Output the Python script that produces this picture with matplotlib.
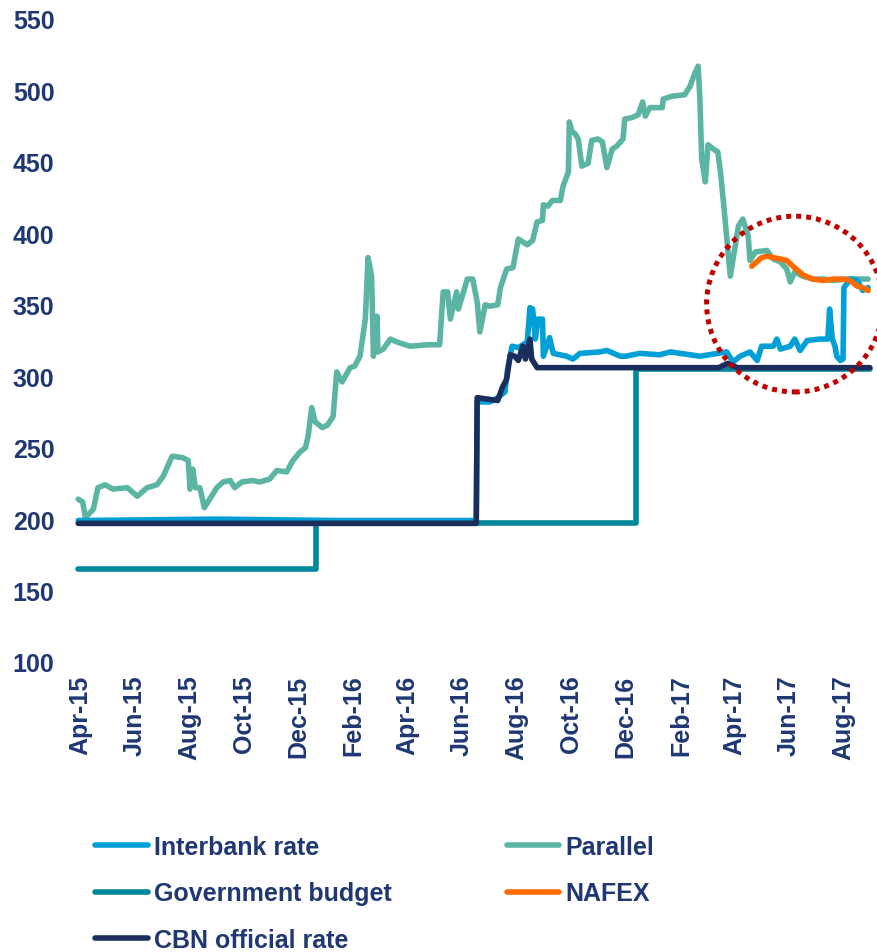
"""
Naira / US dollar rates, Apr-15 to Aug-17: parallel market, interbank,
NAFEX, CBN official rate and the budget benchmark rate.

Writes out.png (877x953 px). Values were read off the reference chart.
"""

import numpy as np
import matplotlib
matplotlib.use("Agg")
import matplotlib.dates as mdates
import matplotlib.pyplot as plt
from matplotlib.lines import Line2D
from matplotlib.patches import Ellipse

OUT = "out.png"

# ---- data (naira per US dollar) -------------------------------------------
parallel_dates = [
    "2015-03-30", "2015-04-04", "2015-04-07", "2015-04-16", "2015-04-21",
    "2015-04-29", "2015-05-08", "2015-05-24", "2015-06-04", "2015-06-15",
    "2015-06-26", "2015-07-03", "2015-07-13", "2015-07-25", "2015-07-31",
    "2015-08-02", "2015-08-05", "2015-08-08", "2015-08-13", "2015-08-18",
    "2015-08-22", "2015-09-01", "2015-09-08", "2015-09-16", "2015-09-21",
    "2015-09-29", "2015-10-11", "2015-10-19", "2015-10-30", "2015-11-07",
    "2015-11-18", "2015-11-25", "2015-12-03", "2015-12-09", "2015-12-12",
    "2015-12-16", "2015-12-20", "2015-12-28",
    "2016-01-03", "2016-01-09", "2016-01-13", "2016-01-19", "2016-01-28",
    "2016-02-02", "2016-02-08", "2016-02-14", "2016-02-17", "2016-02-21",
    "2016-02-23", "2016-02-27", "2016-02-28", "2016-03-05", "2016-03-13",
    "2016-03-20", "2016-04-04", "2016-04-23", "2016-05-07", "2016-05-11",
    "2016-05-16", "2016-05-19", "2016-05-26", "2016-05-28", "2016-06-07",
    "2016-06-13", "2016-06-18", "2016-06-21", "2016-06-27", "2016-07-02",
    "2016-07-11", "2016-07-14", "2016-07-21", "2016-07-28", "2016-08-03",
    "2016-08-13", "2016-08-19", "2016-08-24", "2016-08-30", "2016-08-31",
    "2016-09-05", "2016-09-10", "2016-09-19", "2016-09-22", "2016-09-28",
    "2016-09-29", "2016-10-02", "2016-10-05", "2016-10-09", "2016-10-13",
    "2016-10-20", "2016-10-24", "2016-10-31", "2016-11-05", "2016-11-10",
    "2016-11-16", "2016-11-21", "2016-11-28", "2016-11-30", "2016-12-08",
    "2016-12-15", "2016-12-20", "2016-12-23", "2016-12-28",
    "2017-01-11", "2017-01-12", "2017-01-22", "2017-02-05", "2017-02-11",
    "2017-02-17", "2017-02-20", "2017-02-22", "2017-02-24", "2017-02-28",
    "2017-03-03", "2017-03-09", "2017-03-14", "2017-03-17", "2017-03-20",
    "2017-03-28", "2017-04-06", "2017-04-11", "2017-04-17", "2017-04-19",
    "2017-04-25", "2017-05-08", "2017-05-15", "2017-05-23", "2017-05-30",
    "2017-06-03", "2017-06-08", "2017-06-17", "2017-06-28", "2017-07-10",
    "2017-07-21", "2017-08-05", "2017-08-20", "2017-08-29",
]
parallel_values = [
    214, 212, 201, 207, 222, 224, 221, 222, 216, 222, 224, 230, 244, 243, 241,
    221, 235, 222, 222, 208, 212, 222, 226, 227, 222, 226, 227, 226, 228, 234,
    233, 241, 247, 250, 258, 278, 268, 264,
    266, 272, 303, 296, 306, 307, 314, 340, 383, 370, 314, 342, 317, 319, 326,
    324, 321, 322, 322, 359, 359, 340, 359, 347, 368, 368, 352, 331, 350, 349,
    350, 362, 375, 376, 396, 392, 395, 408, 409, 420, 419, 423, 423, 433, 443,
    478, 471, 470, 466, 447, 449, 465, 466, 464, 446, 459, 461, 466, 480, 481,
    483, 492, 482, 488,
    488, 494, 496, 497, 503, 513, 517, 494, 452, 436, 462, 459, 457, 443, 424,
    370, 405, 410, 398, 381, 387, 388, 382, 380, 375, 366, 373, 370, 368, 368,
    367, 368, 368, 368,
]

interbank_dates = [
    "2015-03-30", "2015-09-01", "2016-01-15", "2016-06-17", "2016-06-18",
    "2016-07-02", "2016-07-11", "2016-07-19", "2016-07-22", "2016-07-27",
    "2016-08-03", "2016-08-13", "2016-08-16", "2016-08-19", "2016-08-22",
    "2016-08-25", "2016-08-30", "2016-08-31", "2016-09-07", "2016-09-11",
    "2016-09-26", "2016-10-03", "2016-10-11", "2016-11-02", "2016-11-10",
    "2016-11-25", "2016-12-01", "2016-12-17", "2017-01-08", "2017-01-20",
    "2017-01-31", "2017-02-22", "2017-03-24", "2017-03-31", "2017-04-08",
    "2017-04-19", "2017-04-27", "2017-05-02", "2017-05-15", "2017-05-19",
    "2017-05-23", "2017-06-03", "2017-06-08", "2017-06-14", "2017-06-22",
    "2017-07-06", "2017-07-15", "2017-07-17", "2017-07-20", "2017-07-23",
    "2017-07-25", "2017-07-29", "2017-08-01", "2017-08-02", "2017-08-09",
    "2017-08-17", "2017-08-23", "2017-08-29",
]
interbank_values = [
    199, 200, 199, 199, 282, 282, 285, 289, 305, 321, 320, 324, 348, 347, 326,
    340, 340, 314, 327, 316, 314, 312, 316, 317, 318, 314, 314, 316, 315, 317,
    316, 314, 317, 310, 314, 317, 311, 321, 321, 326, 319, 321, 326, 318, 325,
    326, 326, 347, 326, 321, 314, 311, 312, 362, 368, 367, 360, 362,
]

budget_dates = ["2015-03-30", "2015-12-21", "2015-12-21", "2016-12-12",
                "2016-12-12", "2017-08-31"]
budget_values = [165, 165, 197, 197, 305, 305]

nafex_dates = [
    "2017-04-21", "2017-05-02", "2017-05-08", "2017-05-23", "2017-05-30",
    "2017-06-06", "2017-06-17", "2017-06-28", "2017-07-10", "2017-07-21",
    "2017-08-01", "2017-08-09", "2017-08-17", "2017-08-23", "2017-08-29",
]
nafex_values = [377, 383, 384, 382, 381, 377, 371, 368, 367, 368, 368, 367,
                363, 362, 360]

cbn_dates = [
    "2015-03-30", "2016-06-17", "2016-06-18", "2016-07-11", "2016-07-16",
    "2016-07-21", "2016-07-25", "2016-07-30", "2016-08-03", "2016-08-08",
    "2016-08-11", "2016-08-16", "2016-08-18", "2016-08-24", "2017-03-15",
    "2017-03-25", "2017-04-05", "2017-08-31",
]
cbn_values = [197, 197, 285, 283, 292, 298, 315, 314, 311, 321, 312, 326, 312,
              306, 306, 309, 306, 306]

tick_months = ["2015-04-01", "2015-06-01", "2015-08-01", "2015-10-01",
               "2015-12-01", "2016-02-01", "2016-04-01", "2016-06-01",
               "2016-08-01", "2016-10-01", "2016-12-01", "2017-02-01",
               "2017-04-01", "2017-06-01", "2017-08-01"]
y_ticks = [100, 150, 200, 250, 300, 350, 400, 450, 500, 550]

# ---- styling ----------------------------------------------------------------
TEXT_COLOR = "#1f3772"
SERIES = [
    # label, dates, values, colour, zorder
    ("Interbank rate", interbank_dates, interbank_values, "#009fd6", 3),
    ("Parallel", parallel_dates, parallel_values, "#5bb5a2", 2),
    ("Government budget", budget_dates, budget_values, "#00879b", 4),
    ("NAFEX", nafex_dates, nafex_values, "#ff6a00", 5),
    ("CBN official rate", cbn_dates, cbn_values, "#1b2e5b", 6),
]
LW = 4.0


def main():
    plt.rcParams["font.family"] = ["Liberation Sans", "DejaVu Sans"]
    plt.rcParams["font.weight"] = "bold"

    fig = plt.figure(figsize=(8.77, 9.53), dpi=100)
    ax = fig.add_axes([74 / 877, 1 - 663 / 953, 799 / 877, 643 / 953])

    handles = {}
    for label, dates, values, color, z in SERIES:
        x = np.array(dates, dtype="datetime64[D]")
        line, = ax.plot(x, values, color=color, lw=LW, zorder=z,
                        solid_capstyle="round", solid_joinstyle="round",
                        label=label)
        handles[label] = line

    # dotted red ring around the NAFEX period
    apr1 = mdates.date2num(np.datetime64("2015-04-01"))
    centre = mdates.date2num(np.datetime64("2017-06-08"))
    ring = Ellipse((centre, 350.5), width=197, height=123, fill=False,
                   edgecolor="#c00000", lw=3.6, linestyle=(0, (1, 1)),
                   clip_on=False, zorder=7)
    ax.add_patch(ring)

    ax.set_xlim(apr1 - 6.7, apr1 + 886.5)
    ax.set_ylim(100, 550)
    ax.set_yticks(y_ticks)
    ax.set_xticks(np.array(tick_months, dtype="datetime64[D]"))
    ax.xaxis.set_major_formatter(mdates.DateFormatter("%b-%y"))
    for s in ax.spines.values():
        s.set_visible(False)
    ax.tick_params(axis="both", length=0, labelsize=18, labelcolor=TEXT_COLOR)
    ax.tick_params(axis="y", pad=14)
    ax.tick_params(axis="x", pad=9, labelrotation=90)

    order = ["Interbank rate", "Government budget", "CBN official rate",
             "Parallel", "NAFEX"]
    leg_handles = [Line2D([0], [0], color=handles[k].get_color(), lw=LW,
                          solid_capstyle="round") for k in order]
    fig.legend(leg_handles, order, loc="upper left",
               bbox_to_anchor=(95 / 877, 1 - 836 / 953), ncol=2,
               frameon=False, borderpad=0, borderaxespad=0,
               handlelength=2.1, handletextpad=0.25, columnspacing=4.6,
               labelspacing=0.9, labelcolor=TEXT_COLOR,
               prop={"size": 18, "weight": "bold"})

    fig.savefig(OUT, dpi=100)
    plt.close(fig)


if __name__ == "__main__":
    main()
